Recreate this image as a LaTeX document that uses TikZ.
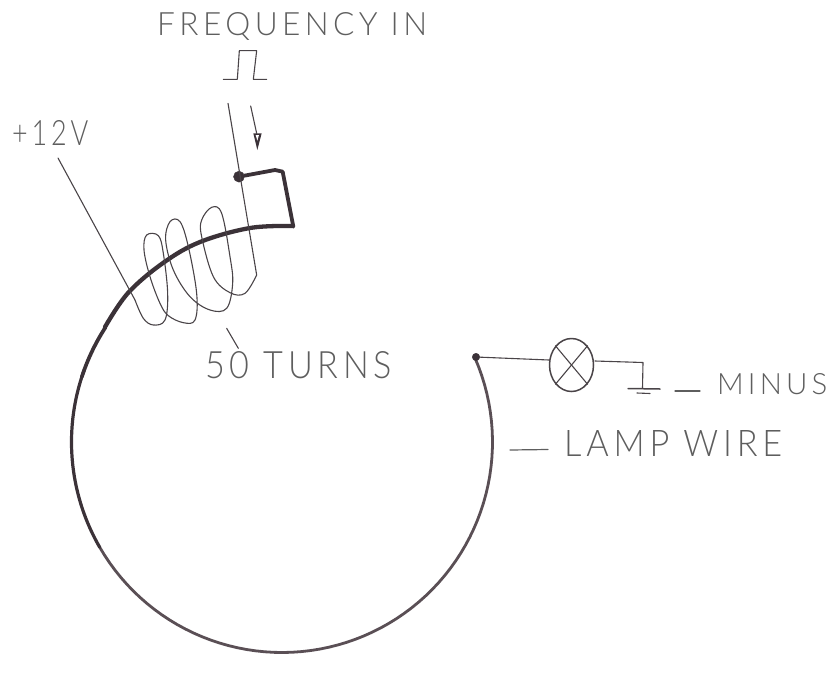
\documentclass[tikz,border=0pt]{standalone}
\usepackage{fontspec}
\usepackage{graphicx}
\usetikzlibrary{shapes.geometric}
\setmainfont{Lato}[UprightFont=* Light]
\definecolor{ink}{HTML}{4A4448}
\definecolor{wire}{HTML}{3B3238}
\definecolor{wirepale}{HTML}{5A4F55}
\definecolor{pencil}{HTML}{5E5E5E}
\newcommand{\handtext}[3]{\resizebox{#1pt}{#2pt}{\addfontfeature{LetterSpace=14}#3}}
\tikzset{
  thin line/.style={draw=ink,line width=1.1pt,line cap=round,line join=round},
  label line/.style={draw=pencil,line width=1.2pt,line cap=round},
  lamp wire/.style={draw=wire,line cap=round,line join=round},
  hand/.style={text=pencil,inner sep=0pt,anchor=base west},
  solder/.style={circle,fill=wire,draw=wire,inner sep=0pt,minimum size=#1},
  ring/.style={samples=70,variable=\a}
}
\begin{document}
\begin{tikzpicture}[x=1pt,y=-1pt]
\useasboundingbox (0,0) rectangle (832,672);
% labels
\node[hand] (freq) at (157,35) {\handtext{270}{23}{FREQUENCY IN}};
\node[hand] (plus) at (12,145) {\handtext{76}{25}{+12V}};
\node[hand] (turns) at (205,378) {\handtext{187}{27}{50 TURNS}};
\node[hand] (minus) at (717,394) {\handtext{110}{21}{MINUS}};
\node[hand] (lampw) at (564,456) {\handtext{218}{26}{LAMP WIRE}};
% lamp wire: a nearly true circle, heavier towards the coil
\draw[lamp wire,draw=wirepale,line width=2.8pt] plot[ring,domain=-23.4:150] ({282+210.5*cos(\a)},{442+210.5*sin(\a)});
\draw[lamp wire,line width=3.2pt] plot[ring,domain=150:200] ({282+210.5*cos(\a)},{442+210.5*sin(\a)});
\draw[lamp wire,line width=3.7pt] plot[ring,domain=198:213] ({282+210.5*cos(\a)},{442+210.5*sin(\a)});
\draw[lamp wire,line width=4.3pt] plot[smooth,tension=.6] coordinates {(105,327) (128,293) (163,263) (200,242) (250,228) (293,226)};
\begin{scope}[x=.33333pt,y=-.33333pt]
  % riser
  \coordinate (riserA) at (880,680);
  \coordinate (riserB) at (848,515);
  \node[solder=11pt] (tap) at (717,530) {};
  \draw[lamp wire,line width=3.8pt] (riserA) -- (riserB) -- (825,510) -- (tap);
  % coil
  \coordinate (coilStart) at (174,474);
  \coordinate (coilBegin) at (405,900);
  \coordinate (coilTop) at (770,825);
  \coordinate (coilEnd) at (684,310);
  \draw[thin line] (coilStart) -- (coilBegin);
  \draw[thin line] plot[smooth,tension=.6] coordinates {(405,900) (430,955) (460,975) (495,960) (503,880) (490,760) (475,707) (440,705) (432,750) (450,830) (480,910) (505,947) (550,968) (585,960) (590,880) (565,740) (540,665) (510,665) (497,720) (520,810) (570,890) (630,930) (680,925) (698,850) (690,770) (665,640) (635,622) (605,660) (605,710) (640,830) (690,878) (735,880) (770,825)};
  \draw[thin line] (coilTop) -- (coilEnd);
  % pulse and arrow
  \coordinate (p0) at (670,238); \coordinate (p1) at (712,238);
  \coordinate (p2) at (718,152); \coordinate (p3) at (770,152);
  \coordinate (p4) at (760,238); \coordinate (p5) at (800,238);
  \draw[thin line] (p0) -- (p1) -- (p2) -- (p3) -- (p4) -- (p5);
  \coordinate (arrowA) at (752,318); \coordinate (arrowB) at (770,400);
  \draw[thin line] (arrowA) -- (arrowB);
  \coordinate (tipL) at (760,400); \coordinate (tipR) at (785,400); \coordinate (tip) at (772,450);
  \path[fill=wire] (tipL) -- (tipR) -- (tip) -- cycle;
  \path[fill=white] (767,405) -- (777,405) -- (772,422) -- cycle;
  % turns pointer
  \coordinate (tpA) at (680,985); \coordinate (tpB) at (715,1045);
  \draw[thin line] (tpA) -- (tpB);
\end{scope}
% lamp circuit
\node[solder=7.5pt] (end) at (476,357) {};
\node[draw=ink,line width=1.5pt,ellipse,minimum width=44pt,minimum height=53pt,inner sep=0pt] (lamp) at (571.5,365) {};
\coordinate (lampIn) at (549,360);
\coordinate (lampOut) at (595,361);
\coordinate (elbow) at (643,362.5);
\coordinate (gnd) at (642.5,388);
\coordinate (gndL) at (628,388.5);
\coordinate (gndR) at (660,389);
\coordinate (gndsL) at (637,393);
\coordinate (gndsR) at (650,393.5);
\draw[thin line] (end) -- (lampIn);
\draw[thin line] (lampOut) -- (elbow) -- (gnd);
\draw[thin line,line width=1.5pt] (gndL) -- (gndR);
\draw[thin line] (gndsL) -- (gndsR);
\draw[thin line] (lamp.north west) -- (lamp.south east);
\draw[thin line] (lamp.north east) -- (lamp.south west);
\coordinate (minusA) at (675,391); \coordinate (minusB) at (700,391);
\draw[label line] (minusA) -- (minusB);
\coordinate (lampwA) at (510,450); \coordinate (lampwB) at (548,449.5);
\draw[label line] (lampwA) -- (lampwB);
\end{tikzpicture}
\end{document}
